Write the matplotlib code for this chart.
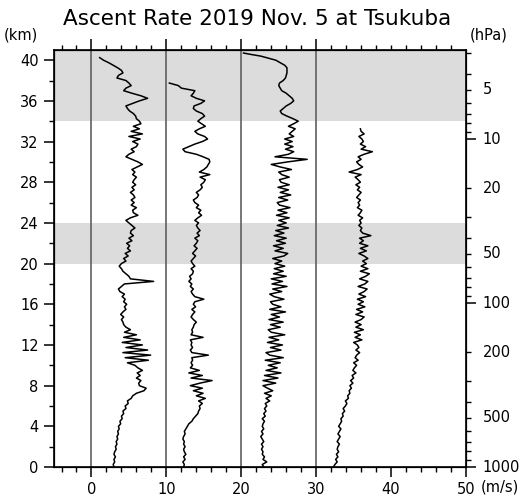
import numpy as np
import matplotlib
matplotlib.use("Agg")
import matplotlib.pyplot as plt
from matplotlib.ticker import FixedLocator, NullFormatter

# ---- ascent-rate profiles (m/s) on a 0.25 km altitude grid ----
DZ = 0.25

rate_a = [
    3.0, 2.9, 3.1, 3.0, 3.2, 3.0, 3.1, 3.3, 3.2,
    3.4, 3.3, 3.5, 3.4, 3.6, 3.5, 3.7, 3.6,
    3.9, 3.8, 4.1, 4.0, 4.3, 4.2, 4.6, 4.5,
    4.9, 4.8, 5.3, 5.5, 6.0, 7.0, 7.3, 6.4,
    6.3, 6.6, 6.0, 6.5, 6.1, 6.8, 6.2, 5.8,
    4.8, 7.6, 4.5, 7.9, 4.2, 7.5, 4.6, 6.8,
    4.1, 6.5, 4.3, 6.0, 4.4, 5.2, 4.6, 4.3,
    4.2, 4.0, 4.3, 3.9, 4.2, 4.6, 4.4, 4.7,
    4.3, 4.5, 4.1, 4.4, 3.8, 3.6, 4.0, 4.4,
    8.3, 5.2, 5.0, 4.6, 4.2, 4.0, 3.7, 4.0,
    4.6, 4.3, 4.9, 4.5, 5.2, 4.8, 5.1, 4.7,
    5.4, 5.0, 5.6, 5.2, 5.3, 5.8, 5.4, 5.0,
    4.6, 5.2, 6.2, 5.6, 5.5, 6.0, 5.3, 5.7,
    5.3, 5.8, 5.6, 5.2, 5.7, 5.4, 5.9, 5.5,
    5.7, 6.0, 5.5, 5.8, 5.4, 6.1, 6.8, 6.2,
    5.4, 4.6, 5.0, 5.7, 5.3, 6.0, 6.2, 5.5,
    6.5, 5.0, 6.8, 5.3, 6.4, 5.6, 6.6, 6.4,
    6.0, 5.9, 5.6, 5.1, 4.8, 4.6, 5.5, 6.4,
    7.5, 6.6, 5.4, 4.3, 4.6, 5.3, 5.0, 4.6,
    3.4, 3.6, 4.2, 4.0, 3.5, 2.9, 2.3, 1.6,
    1.1,
]

rate_b = [
    2.3, 2.4, 2.2, 2.5, 2.3, 2.6, 2.4, 2.3, 2.5,
    2.3, 2.4, 2.2, 2.3, 2.5, 2.4, 2.6, 2.8,
    3.0, 3.4, 3.6, 3.9, 4.2, 4.3, 4.5, 4.4,
    4.8, 4.3, 5.2, 4.0, 4.9, 3.6, 4.8, 3.2,
    4.5, 6.1, 3.3, 4.8, 3.0, 4.4, 3.2, 3.5,
    3.3, 3.5, 3.4, 5.6, 3.4, 3.2, 3.5, 3.3,
    3.4, 3.2, 4.9, 3.3, 3.5, 3.4, 3.6, 3.7,
    4.0, 3.6, 3.3, 3.5, 3.8, 3.4, 3.9, 3.6,
    3.8, 5.0, 3.8, 3.5, 3.3, 3.6, 3.2, 3.4,
    3.0, 3.3, 3.1, 3.5, 3.6, 3.3, 3.8, 3.5,
    3.3, 3.6, 3.9, 3.5, 3.8, 4.1, 3.7, 4.0,
    4.2, 3.8, 4.4, 4.1, 4.5, 4.2, 4.0, 4.3,
    3.8, 4.2, 4.7, 4.3, 4.6, 4.0, 4.3, 3.8,
    3.6, 4.1, 4.3, 4.0, 4.5, 4.8, 4.6, 5.0,
    5.2, 4.5, 5.8, 4.4, 5.0, 5.4, 5.6, 5.8,
    5.7, 4.9, 4.0, 2.5, 2.2, 3.0, 3.8, 4.8,
    5.5, 5.1, 4.2, 3.8, 4.4, 5.2, 4.7, 4.2,
    4.6, 5.1, 4.8, 4.0, 3.6, 3.7, 4.6, 5.1,
    4.0, 3.3, 3.6, 3.8, 2.0, 1.6, 0.4,
]

rate_c = [
    3.0, 2.8, 3.4, 2.9, 3.1, 2.8, 2.9, 2.7, 2.9,
    2.7, 3.0, 2.8, 2.6, 2.9, 2.7, 3.0, 2.8,
    2.9, 3.1, 2.8, 3.2, 3.0, 3.3, 3.1, 3.4,
    3.2, 3.8, 3.3, 4.0, 3.1, 4.2, 3.5, 2.9,
    4.6, 2.9, 4.9, 3.1, 5.3, 3.3, 4.8, 3.6,
    5.2, 3.2, 5.6, 3.8, 3.3, 5.3, 3.9, 5.5,
    3.5, 5.0, 3.7, 5.8, 4.0, 3.6, 5.2, 3.9,
    5.6, 3.7, 5.1, 4.0, 5.9, 3.8, 5.3, 4.2,
    3.9, 5.7, 4.4, 3.8, 5.4, 4.2, 6.1, 4.1,
    5.5, 4.0, 6.0, 4.3, 5.6, 4.4, 5.8, 4.5,
    5.4, 4.2, 5.7, 6.2, 4.5, 5.6, 4.3, 5.9,
    4.7, 6.0, 4.4, 5.7, 4.6, 6.3, 4.8, 6.0,
    5.0, 6.4, 4.7, 6.1, 4.9, 6.5, 5.1, 4.8,
    6.2, 5.0, 6.6, 5.2, 6.3, 4.9, 6.4, 5.3,
    5.1, 6.4, 5.4, 5.0, 6.7, 5.2, 4.0, 6.2,
    8.8, 4.5, 6.3, 7.0, 5.9, 6.9, 5.8, 6.8,
    5.8, 7.0, 6.4, 6.8, 7.2, 6.3, 7.0, 7.6,
    6.9, 6.1, 5.4, 5.2, 5.6, 6.0, 6.6, 7.0,
    6.8, 6.4, 6.0, 5.4, 5.2, 5.0, 5.1, 5.6,
    5.9, 6.0, 6.1, 6.1,
]
# burst segment near the top of the third flight
top_c_alt = [39.25, 39.5, 39.75, 40.0, 40.2, 40.4, 40.55, 40.7]
top_c_rate = [6.1, 5.8, 5.2, 4.6, 3.6, 2.6, 1.4, 0.3]

rate_d = [
    2.3, 2.5, 2.8, 2.6, 2.9, 2.7, 3.0, 2.8, 2.9,
    3.1, 2.8, 3.0, 3.2, 2.9, 3.1, 3.3, 3.0,
    3.2, 3.4, 3.3, 3.6, 3.5, 3.8, 3.6, 3.9,
    4.1, 3.9, 4.3, 4.2, 4.5, 4.4, 4.7, 4.5,
    4.9, 4.6, 5.0, 4.8, 5.3, 4.9, 5.1, 5.4,
    5.0, 5.6, 5.2, 5.4, 5.8, 5.3, 5.7, 5.5,
    5.0, 6.1, 5.2, 5.9, 5.1, 6.3, 5.3, 6.0,
    5.2, 6.0, 6.4, 5.3, 6.2, 5.4, 6.5, 5.6,
    6.3, 5.5, 6.6, 5.7, 6.4, 6.8, 5.6, 6.5,
    6.9, 5.8, 6.6, 7.1, 5.9, 6.9, 6.0, 6.7,
    6.2, 6.9, 6.4, 5.7, 6.7, 5.9, 6.9, 5.8,
    6.3, 5.8, 7.3, 6.2, 5.9, 6.1, 5.7, 6.0,
    5.8, 6.2, 5.6, 5.9, 6.1, 5.5, 5.8, 5.6,
    5.9, 5.4, 5.7, 6.0, 5.5, 5.8, 5.3, 5.9,
    5.6, 5.2, 6.0, 4.4, 5.5, 6.2, 5.7, 5.4,
    6.0, 5.6, 6.4, 7.5, 6.0, 6.6, 5.9, 6.3,
    6.1, 5.7, 6.4, 6.0, 5.9,
]

# shaded altitude layers (km)
bands = [(20.0, 24.0), (34.0, 41.0)]

# labelled pressure levels (hPa); altitude from a 7 km scale height
p_levels = [1000, 500, 200, 100, 50, 20, 10, 5]
p_minor = [900, 800, 700, 600, 400, 300, 90, 80, 70, 60, 40, 30,
           9, 8, 7, 6, 4, 3]
p_major = [1000, 100, 10]
SCALE_H = 7.0

x_ticks = [0, 10, 20, 30, 40, 50]
y_ticks = [0, 4, 8, 12, 16, 20, 24, 28, 32, 36, 40]

# horizontal offset of each flight (m/s)
offsets = [0, 10, 20, 30]


def p_to_z(p):
    return SCALE_H * np.log(1000.0 / np.asarray(p, dtype=float))


fig = plt.figure(figsize=(5.25, 4.98), dpi=100)
ax = fig.add_axes([0.1029, 0.0622, 0.7847, 0.8374])
ax.set_xlim(-5, 50)
ax.set_ylim(0, 41)

for lo, hi in bands:
    ax.axhspan(lo, hi, color="#dcdcdc", lw=0, zorder=0)
for off in offsets:
    ax.axvline(off, color="#606060", lw=1.2, zorder=1)

profiles = []
for r in (rate_a, rate_b):
    z = np.arange(len(r)) * DZ
    profiles.append((np.asarray(r), z))
zc = np.concatenate([np.arange(len(rate_c)) * DZ, top_c_alt])
profiles.append((np.asarray(rate_c + top_c_rate), zc))
profiles.append((np.asarray(rate_d), np.arange(len(rate_d)) * DZ))

for (r, z), off in zip(profiles, offsets):
    ax.plot(r + off, z, color="black", lw=1.1, zorder=3)

# ---- axes decoration ----
ax.set_xticks(x_ticks)
ax.set_xticklabels([str(v) for v in x_ticks], fontsize=10.5)
ax.xaxis.set_minor_locator(FixedLocator(np.arange(-4, 50, 2)))
ax.set_yticks(y_ticks)
ax.set_yticklabels([str(v) for v in y_ticks], fontsize=10.5)
ax.yaxis.set_minor_locator(FixedLocator(np.arange(2, 41, 4)))
ax.tick_params(which="major", direction="out", length=7, width=1.1, pad=4)
ax.tick_params(which="minor", direction="out", length=3.5, width=1.0)
ax.tick_params(axis="x", which="both", top=False)
ax.tick_params(axis="y", which="both", right=False)
for s in ax.spines.values():
    s.set_linewidth(1.2)

# top axis ticks
axt = ax.twiny()
axt.set_xlim(ax.get_xlim())
axt.set_xticks(offsets)
axt.xaxis.set_minor_locator(FixedLocator(np.arange(-4, 50, 2)))
axt.xaxis.set_major_formatter(NullFormatter())
axt.tick_params(which="major", direction="out", length=8, width=1.1)
axt.tick_params(which="minor", direction="out", length=3.5, width=1.0)

# right pressure axis
axp = ax.twinx()
axp.set_ylim(ax.get_ylim())
axp.set_yticks(p_to_z(p_major))
axp.set_yticklabels([])
minor_list = [p for p in p_minor + p_levels if p not in p_major]
minor_z = p_to_z(minor_list)
axp.yaxis.set_minor_locator(FixedLocator(minor_z[minor_z < 41]))
axp.tick_params(which="major", direction="out", length=7, width=1.1)
axp.tick_params(which="minor", direction="out", length=3.5, width=1.0)
for p, h in zip(p_levels, p_to_z(p_levels)):
    axp.text(1.04, h, str(p), transform=axp.get_yaxis_transform(),
             ha="left", va="center", fontsize=10.5)

fig.text(0.49, 0.962, "Ascent Rate 2019 Nov. 5 at Tsukuba",
         ha="center", va="center", fontsize=15.5)
fig.text(0.008, 0.93, "(km)", ha="left", va="center", fontsize=10.5)
fig.text(0.895, 0.93, "(hPa)", ha="left", va="center", fontsize=10.5)
fig.text(0.915, 0.022, "(m/s)", ha="left", va="center", fontsize=10.5)

fig.savefig("out.png", dpi=100)
